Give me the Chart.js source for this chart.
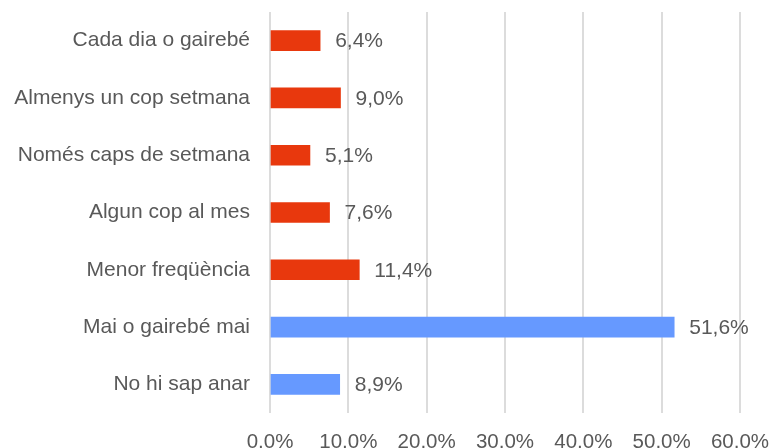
<!DOCTYPE html>
<html><head><meta charset="utf-8">
<script src="https://cdn.jsdelivr.net/npm/chart.js@4/dist/chart.umd.min.js"></script>
<style>html,body{margin:0;padding:0;background:#fff}#wrap{width:770px;height:448px}</style>
</head><body><div id="wrap"><canvas id="c" width="770" height="448"></canvas></div>
<script>
const categories = ["Cada dia o gairebé","Almenys un cop setmana","Només caps de setmana","Algun cop al mes","Menor freqüència","Mai o gairebé mai","No hi sap anar"];
const values = [6.4, 9.0, 5.1, 7.6, 11.4, 51.6, 8.9];
const barColors = ["#E8380D","#E8380D","#E8380D","#E8380D","#E8380D","#6699FF","#6699FF"];
const xTicks = [0,10,20,30,40,50,60];
const fmt = v => v.toFixed(1).replace('.', ',') + '%';
const FONT = "'Liberation Sans', Arial, sans-serif";
const zeroPad = s => { s.paddingTop = 0; s.paddingBottom = 0; s.paddingLeft = 0; s.paddingRight = 0; };
const labelPlugin = {
  id: 'vlabels',
  afterDatasetsDraw(chart) {
    const ctx = chart.ctx;
    const meta = chart.getDatasetMeta(0);
    ctx.save();
    ctx.font = "21px " + FONT;
    ctx.fillStyle = "#595959";
    ctx.textBaseline = "middle";
    ctx.textAlign = "left";
    meta.data.forEach((bar, i) => {
      ctx.fillText(fmt(values[i]), bar.x + 15, bar.y + 1);
    });
    ctx.restore();
  }
};
new Chart(document.getElementById('c'), {
  type: 'bar',
  data: { labels: categories, datasets: [{ data: values, backgroundColor: barColors, barThickness: 20 }] },
  options: {
    indexAxis: 'y', responsive: false, animation: false, devicePixelRatio: 1,
    layout: { padding: { top: 12, right: 30, left: 0, bottom: 0 } },
    plugins: { legend: { display: false }, tooltip: { enabled: false } },
    scales: {
      x: {
        min: 0, max: 60,
        afterBuildTicks: s => { s.ticks = xTicks.map(v => ({ value: v })); },
        afterFit: s => { s.height = 35; zeroPad(s); },
        grid: { color: "#DCDCDC", lineWidth: 2, drawTicks: false },
        border: { display: false },
        ticks: { padding: 17, color: "#595959", font: { family: FONT, size: 20.5 }, callback: v => fmt(v) }
      },
      y: {
        afterFit: s => { s.width = 270; zeroPad(s); },
        grid: { display: false, drawTicks: false },
        border: { display: false },
        ticks: { padding: 20, color: "#595959", font: { family: FONT, size: 21 } }
      }
    }
  },
  plugins: [labelPlugin]
});
</script></body></html>
